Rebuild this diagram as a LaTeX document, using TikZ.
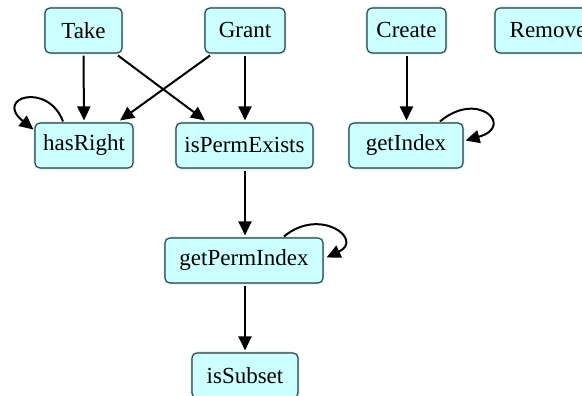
\documentclass[tikz,border=0pt]{standalone}
\usepackage{fontspec}
\setmainfont{Liberation Serif}
\usetikzlibrary{arrows.meta,calc}
\definecolor{boxfill}{HTML}{CCFFFF}
\definecolor{boxline}{HTML}{3A3A3A}
\definecolor{boxglow}{HTML}{A8F0F0}
\tikzset{
  fn/.style={draw=boxline, line width=1.1pt, fill=boxfill, rounded corners=5pt,
    minimum height=45pt, inner xsep=2pt, inner ysep=0pt, font=\fontsize{23}{26}\selectfont,
    preaction={draw=boxglow, line width=2.6pt}},
  call/.style={line width=2pt, -{Triangle[length=14pt,width=13pt]}},
}
\begin{document}
\begin{tikzpicture}[x=1pt,y=1pt]
  \useasboundingbox (0,0) rectangle (582,396);
  % functions
  \node[fn, minimum width=77pt]  (Take)         at (83.5,365.5) {Take};
  \node[fn, minimum width=80pt]  (Grant)        at (245,365.5)  {Grant};
  \node[fn, minimum width=79pt]  (Create)       at (406.5,365.5){Create};
  \node[fn, minimum width=106pt] (Remove)       at (548,365.5)  {Remove};
  \node[fn, minimum width=98pt]  (hasRight)     at (84,250.5)   {hasRight};
  \node[fn, minimum width=137pt] (isPermExists) at (244.5,250.5){isPermExists};
  \node[fn, minimum width=114pt] (getIndex)     at (406,250.5)  {getIndex};
  \node[fn, minimum width=158pt] (getPermIndex) at (244,135.5)  {getPermIndex};
  \node[fn, minimum width=106pt] (isSubset)     at (245,20.5)   {isSubset};
  % calls
  \draw[call] ($(Take.south)+(0,-2)$) -- ($(hasRight.north)+(0,2)$);
  \draw[call] ($(Take.south)+(34.5,-2)$) -- ($(isPermExists.north)+(-39.5,2)$);
  \draw[call] ($(Grant.south)+(-35,-2)$) -- ($(hasRight.north)+(36,2)$);
  \draw[call] ($(Grant.south)+(0,-2)$) -- ($(isPermExists.north)+(0.5,2)$);
  \draw[call] ($(Create.south)+(0,-2)$) -- ($(getIndex.north)+(0.5,2)$);
  \draw[call] ($(isPermExists.south)+(0.5,-2)$) -- ($(getPermIndex.north)+(1,2)$);
  \draw[call] ($(getPermIndex.south)+(1,-2)$) -- ($(isSubset.north)+(0,2)$);
  % recursive calls
  \draw[call] ($(hasRight.north)+(-21,1)$) .. controls +(-15,40) and +(-40,32) .. ($(hasRight.west)+(-1,16)$);
  \draw[call] ($(getIndex.north)+(34,1)$) .. controls +(38,32) and +(50,14) .. ($(getIndex.east)+(2,5)$);
  \draw[call] ($(getPermIndex.north)+(40,1)$) .. controls +(36,30) and +(38,18) .. ($(getPermIndex.east)+(3,3)$);
\end{tikzpicture}
\end{document}
